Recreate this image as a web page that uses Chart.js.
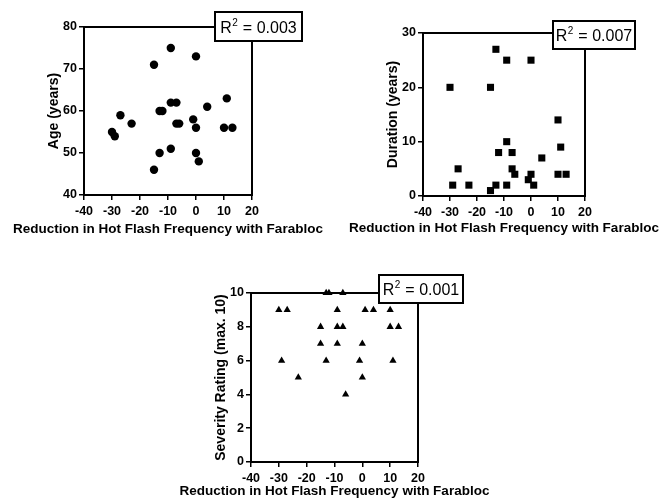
<!DOCTYPE html>
<html lang="en">
<head>
  <meta charset="UTF-8" />
  <title>Farabloc - Hot Flash Reduction</title>
  <script src="https://cdn.jsdelivr.net/npm/chart.js"></script>
  <style>
    body { margin: 0; background: #fff; }
    .panel { position: absolute; }
    #p1 { left: 0; top: 0; }
    #p2 { left: 330px; top: 0; }
    #p3 { left: 160px; top: 250px; }
  </style>
</head>
<body>
  <div class="panel" id="p1"><canvas id="ageChart" width="330" height="240"></canvas></div>
  <div class="panel" id="p2"><canvas id="durationChart" width="329" height="240"></canvas></div>
  <div class="panel" id="p3"><canvas id="severityChart" width="340" height="248"></canvas></div>

  <script>
    // values
    const xTitle = 'Reduction in Hot Flash Frequency with Farabloc';
    const xTicks = [-40, -30, -20, -10, 0, 10, 20];

    const ageReduction = [-30, -29, -27, -23, -15, -15, -13, -12, -13, -9, -9, -7, -9, -7, -6, -1, 0, 0, 0, 1, 4, 10, 11, 13];
    const age          = [55, 54, 59, 57, 71, 46, 60, 60, 50, 75, 62, 62, 51, 57, 57, 58, 73, 56, 50, 48, 61, 56, 63, 56];

    const durationReduction = [-29, -30, -27, -23, -15, -15, -13, -13, -12, -9, -9, -9, -7, -7, -6, -1, 0, 0, 1, 4, 10, 10, 11, 13];
    const duration          = [2, 20, 5, 2, 1, 20, 27, 2, 8, 25, 10, 2, 8, 5, 4, 3, 4, 25, 2, 7, 14, 4, 9, 4];

    const severityReduction = [-30, -27, -29, -23, -15, -15, -13, -13, -12, -9, -9, -9, -7, -7, -6, -1, 0, 0, 1, 4, 10, 10, 13, 11];
    const severity          = [9, 9, 6, 5, 8, 7, 6, 10, 10, 9, 8, 7, 10, 8, 4, 6, 7, 5, 9, 9, 9, 8, 8, 6];

    const yTitles = ['Age (years)', 'Duration (years)', 'Severity Rating (max. 10)'];
    const r2Values = ['0.003', '0.007', '0.001'];

    const FONT = '"Liberation Sans", Arial, Helvetica, sans-serif';

    // frame round the plot area, the x title (Chart.js squeezes it to the axis width) and the R² box
    const framePlugin = {
      id: 'frame',
      beforeDatasetsDraw(chart) {
        const { ctx, chartArea: a } = chart;
        ctx.save();
        ctx.strokeStyle = '#000';
        ctx.lineWidth = 2;
        ctx.strokeRect(a.left, a.top, a.right - a.left, a.bottom - a.top);
        ctx.restore();
      },
      afterDatasetsDraw(chart, args, opts) {
        const { ctx, chartArea: a } = chart;
        ctx.save();
        ctx.fillStyle = '#000';
        ctx.font = 'bold 13.5px ' + FONT;
        ctx.textAlign = 'center';
        ctx.textBaseline = 'middle';
        ctx.fillText(opts.xTitle, (a.left + a.right) / 2, a.bottom + opts.titleOffset);

        const b = opts.box;
        const x = a.right + b.dx, y = a.top + b.dy;
        ctx.fillStyle = '#fff';
        ctx.fillRect(x, y, b.w, b.h);
        ctx.strokeStyle = '#000';
        ctx.lineWidth = 2;
        ctx.strokeRect(x, y, b.w, b.h);

        const big = '16px ' + FONT, small = '10px ' + FONT;
        const rest = ' = ' + opts.r2;
        ctx.font = big;
        const wR = ctx.measureText('R').width, wRest = ctx.measureText(rest).width;
        ctx.font = small;
        const w2 = ctx.measureText('2').width;
        let tx = x + (b.w - (wR + w2 + 1 + wRest)) / 2;
        const base = y + b.h / 2 + 6;
        ctx.fillStyle = '#000';
        ctx.textBaseline = 'alphabetic';
        ctx.textAlign = 'left';
        ctx.font = big;
        ctx.fillText('R', tx, base);
        tx += wR;
        ctx.font = small;
        ctx.fillText('2', tx + 0.5, base - 7);
        tx += w2 + 1;
        ctx.font = big;
        ctx.fillText(rest, tx, base);
        ctx.restore();
      }
    };

    function makeChart(id, xs, ys, cfg) {
      const points = xs.map((x, i) => ({ x: x, y: ys[i] }));
      return new Chart(document.getElementById(id), {
        type: 'scatter',
        data: {
          datasets: [{
            data: points,
            pointStyle: cfg.style,
            pointRadius: cfg.radius,
            pointBorderWidth: 0,
            backgroundColor: '#000',
            borderColor: '#000',
            clip: false
          }]
        },
        options: {
          responsive: false,
          animation: false,
          layout: { padding: cfg.pad },
          plugins: {
            legend: { display: false },
            tooltip: { enabled: false },
            frame: { box: cfg.box, r2: cfg.r2, xTitle: xTitle, titleOffset: cfg.titleOffset }
          },
          scales: {
            x: {
              type: 'linear',
              min: xTicks[0],
              max: xTicks[xTicks.length - 1],
              afterBuildTicks: s => { s.ticks = xTicks.map(v => ({ value: v })); },
              afterFit: s => { s.height = cfg.xHeight; },
              border: { color: '#000', width: 2 },
              grid: { drawOnChartArea: false, drawTicks: true, tickLength: 5, color: '#000', lineWidth: 1.5 },
              ticks: { color: '#000', padding: 4, font: { family: FONT, size: 12.5, weight: 'bold' } }
            },
            y: {
              type: 'linear',
              min: cfg.yTicks[0],
              max: cfg.yTicks[cfg.yTicks.length - 1],
              afterBuildTicks: s => { s.ticks = cfg.yTicks.map(v => ({ value: v })); },
              afterFit: s => { s.width = cfg.yWidth; },
              border: { color: '#000', width: 2 },
              grid: { drawOnChartArea: false, drawTicks: true, tickLength: 5, color: '#000', lineWidth: 1.5 },
              ticks: { color: '#000', padding: 2, font: { family: FONT, size: 12.5, weight: 'bold' } },
              title: { display: true, text: cfg.yTitle, color: '#000', padding: 0, font: { family: FONT, size: 14, weight: 'bold' } }
            }
          }
        },
        plugins: [framePlugin]
      });
    }

    makeChart('ageChart', ageReduction, age, {
      style: 'circle', radius: 4.2,
      yTicks: [40, 50, 60, 70, 80], yTitle: yTitles[0], r2: r2Values[0],
      pad: { left: 46, top: 27, right: 78, bottom: 3 }, yWidth: 38, xHeight: 42, titleOffset: 34,
      box: { dx: -37, dy: -15, w: 87, h: 29 }
    });

    makeChart('durationChart', durationReduction, duration, {
      style: 'rect', radius: 5,
      yTicks: [0, 10, 20, 30], yTitle: yTitles[1], r2: r2Values[1],
      pad: { left: 55, top: 33, right: 74, bottom: 4 }, yWidth: 38, xHeight: 40, titleOffset: 32,
      box: { dx: -32, dy: -12, w: 82, h: 28 }
    });

    makeChart('severityChart', severityReduction, severity, {
      style: 'triangle', radius: 4.2,
      yTicks: [0, 2, 4, 6, 8, 10], yTitle: yTitles[2], r2: r2Values[2],
      pad: { left: 53, top: 43, right: 82, bottom: 0 }, yWidth: 38, xHeight: 36, titleOffset: 29,
      box: { dx: -39, dy: -18, w: 84, h: 28 }
    });
  </script>
</body>
</html>
